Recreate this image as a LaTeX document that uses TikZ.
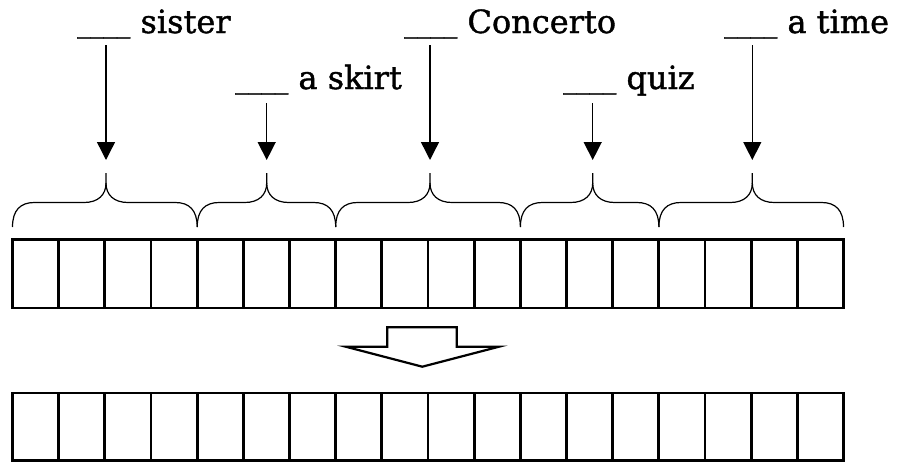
\documentclass[tikz,border=0pt]{standalone}
\usepackage{fontspec}
\setmainfont{DejaVu Serif}[FakeBold=1.2]
\usetikzlibrary{arrows.meta}
\newcommand{\blankline}{\raisebox{2pt}{\scalebox{0.83}[1]{\_\_\_\_}}}
\tikzset{
  lbl/.style={anchor=base west, inner sep=0pt, font=\fontsize{32}{38}\selectfont},
  arr/.style={line width=1.4pt, -{Triangle[width=18pt,length=18pt]}},
  bracel/.style={line width=1.2pt},
  cellline/.style={line width=2.7pt},
  hollow/.style={line width=2.2pt, line join=miter}
}
\begin{document}
\begin{tikzpicture}[x=1pt,y=-1pt]
\useasboundingbox (0,0) rectangle (897,466);
% labels
\node[lbl] (lA) at (77,33) {\blankline{} sister};
\node[lbl] (lB) at (235,89) {\blankline{} a skirt};
\node[lbl] (lC) at (404,33) {\blankline{} Concerto};
\node[lbl] (lD) at (563,89) {\blankline{} quiz};
\node[lbl] (lE) at (724,33) {\blankline{} a time};
% arrow starts
\coordinate (sA) at (106,45);
\coordinate (sB) at (266.7,103);
\coordinate (sC) at (430,45);
\coordinate (sD) at (592.7,103);
\coordinate (sE) at (752.3,45);
% brace tips
\coordinate (tA) at (106,173);
\coordinate (tB) at (266.7,173);
\coordinate (tC) at (430,173);
\coordinate (tD) at (592.7,173);
\coordinate (tE) at (752.3,173);
\foreach \s/\t in {sA/tA,sB/tB,sC/tC,sD/tD,sE/tE}
  \draw[arr] (\s) -- ([yshift=13pt]\t);
% braces
\foreach \a/\m/\b in {12.5/106/197.2, 197.2/266.7/335.7, 335.7/430/520.4, 520.4/592.7/658.9, 658.9/752.3/843.5}{
  \draw[bracel] (\a,227) .. controls (\a,210) and ({\a+8},202.5) .. ({\a+22},202.5)
    -- ({\m-22},202.5) .. controls ({\m-8},202.5) and (\m,195) .. (\m,183) -- (\m,173);
  \draw[bracel] (\b,227) .. controls (\b,210) and ({\b-8},202.5) .. ({\b-22},202.5)
    -- ({\m+22},202.5) .. controls ({\m+8},202.5) and (\m,195) .. (\m,183);
}
% cell rows
\draw[cellline] (12.5,239.5) rectangle (843.5,308);
\draw[cellline] (12.5,393) rectangle (843.5,460.5);
\foreach \k in {1,...,17}{
  \draw[cellline] ({12.5+46.1667*\k},239.5) -- ({12.5+46.1667*\k},308);
  \draw[cellline] ({12.5+46.1667*\k},393) -- ({12.5+46.1667*\k},460.5);
}
% hollow arrow
\draw[hollow] (387.3,327.3) -- (456.7,327.3) -- (456.7,346.7) -- (499,346.7)
  -- (422.3,366.7) -- (345.7,346.7) -- (387.3,346.7) -- cycle;
\end{tikzpicture}
\end{document}
